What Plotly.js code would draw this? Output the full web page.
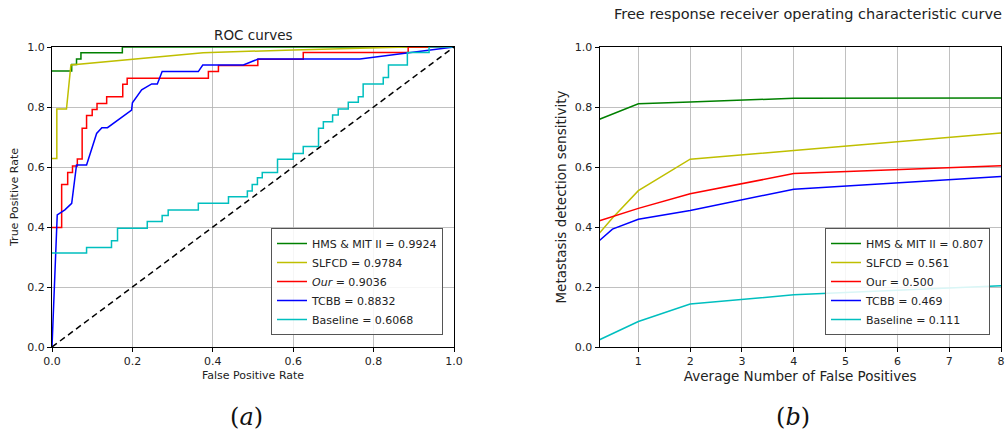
<!DOCTYPE html>
<html><head><meta charset="utf-8">
<script src="https://cdn.plot.ly/plotly-3.0.1.min.js"></script>
<style>html,body{margin:0;padding:0;background:#fff}#plot{width:1005px;height:435px}</style>
</head><body><div id="plot"></div>
<script>
// ---- ROC data (panel a) ----
const hmsFpr = [0, 0.049, 0.061, 0.072, 0.175, 1.0];
const hmsTpr = [0.92, 0.942, 0.96, 0.981, 1.0, 1.0];
const slfcdFpr = [0, 0.012, 0.012, 0.036, 0.047, 0.376, 0.6, 0.885, 1.0];
const slfcdTpr = [0.628, 0.628, 0.793, 0.793, 0.94, 0.981, 0.99, 1.0, 1.0];
const ourFpr = [0, 0.024, 0.039, 0.051, 0.063, 0.075, 0.086, 0.10, 0.112, 0.136, 0.176, 0.187, 0.389, 0.414, 0.512, 0.625, 0.886, 1.0];
const ourTpr = [0.398, 0.542, 0.582, 0.603, 0.627, 0.729, 0.772, 0.792, 0.812, 0.834, 0.876, 0.896, 0.918, 0.938, 0.959, 0.982, 1.0, 1.0];
const tcbbFpr = [0, 0.013, 0.032, 0.049, 0.061, 0.086, 0.111, 0.124, 0.138, 0.198, 0.2, 0.223, 0.248, 0.262, 0.274, 0.364, 0.375, 0.476, 0.513, 0.766, 1.0];
const tcbbTpr = [0, 0.44, 0.457, 0.479, 0.607, 0.607, 0.712, 0.731, 0.731, 0.79, 0.814, 0.857, 0.877, 0.877, 0.918, 0.918, 0.94, 0.94, 0.96, 0.96, 1.0];
const baseFpr = [0, 0.086, 0.148, 0.163, 0.237, 0.274, 0.289, 0.364, 0.439, 0.486, 0.498, 0.511, 0.523, 0.561, 0.60, 0.625, 0.663, 0.675, 0.698, 0.712, 0.737, 0.762, 0.774, 0.824, 0.837, 0.884, 0.938, 1.0];
const baseTpr = [0.313, 0.332, 0.354, 0.396, 0.418, 0.438, 0.457, 0.479, 0.501, 0.52, 0.542, 0.564, 0.582, 0.626, 0.645, 0.668, 0.729, 0.751, 0.773, 0.793, 0.816, 0.834, 0.877, 0.898, 0.94, 0.982, 1.0, 1.0];
const chanceX = [0, 1];
const chanceY = [0, 1];
const rocNames = ['HMS & MIT II = 0.9924', 'SLFCD = 0.9784', '<i>Our</i> = 0.9036', 'TCBB = 0.8832', 'Baseline = 0.6068'];

// ---- FROC data (panel b) ----
const avgFP = [0.25, 0.5, 1, 2, 4, 8];
const hmsSens = [0.759, 0.776, 0.811, 0.817, 0.829, 0.83];
const slfcdSens = [0.38, 0.43, 0.521, 0.626, 0.655, 0.713];
const ourSens = [0.421, 0.435, 0.462, 0.511, 0.578, 0.604];
const tcbbSens = [0.355, 0.393, 0.426, 0.455, 0.526, 0.568];
const baseSens = [0.024, 0.045, 0.085, 0.143, 0.174, 0.204];
const frocNames = ['HMS & MIT II = 0.807', 'SLFCD = 0.561', 'Our = 0.500', 'TCBB = 0.469', 'Baseline = 0.111'];
const frocXTicks = [1, 2, 3, 4, 5, 6, 7, 8];
const unitTicks = [0, 0.2, 0.4, 0.6, 0.8, 1.0];

const colors = ['#008000', '#bfbf00', '#ff0000', '#0000ff', '#00bfbf'];
const FONT = 'DejaVu Sans, sans-serif';
const LW = 1.5;

const traces = [];
const rocSets = [[hmsFpr, hmsTpr, 'hv'], [slfcdFpr, slfcdTpr, 'linear'], [ourFpr, ourTpr, 'hv'], [tcbbFpr, tcbbTpr, 'linear'], [baseFpr, baseTpr, 'hv']];
rocSets.forEach((s, i) => traces.push({
  x: s[0], y: s[1], type: 'scatter', mode: 'lines', name: rocNames[i],
  line: {color: colors[i], width: LW, shape: s[2]}, xaxis: 'x', yaxis: 'y', legend: 'legend'
}));
traces.push({x: chanceX, y: chanceY, type: 'scatter', mode: 'lines', showlegend: false,
  line: {color: '#000', width: LW, dash: '6px,4px'}, xaxis: 'x', yaxis: 'y'});

const frocSets = [hmsSens, slfcdSens, ourSens, tcbbSens, baseSens];
frocSets.forEach((s, i) => traces.push({
  x: avgFP, y: s, type: 'scatter', mode: 'lines', name: frocNames[i],
  line: {color: colors[i], width: LW}, xaxis: 'x2', yaxis: 'y2', legend: 'legend2'
}));

const axBase = {
  showline: true, linecolor: '#000', linewidth: 1, mirror: true,
  ticks: 'outside', ticklen: 4, tickcolor: '#000', tickwidth: 1,
  showgrid: true, gridcolor: '#b0b0b0', gridwidth: 0.8, zeroline: false,
  tickfont: {family: FONT, size: 11, color: '#222'}
};
const yDom = [(435 - 347) / 435, (435 - 47) / 435];
const legBase = {bgcolor: 'rgba(255,255,255,0.85)', bordercolor: '#555', borderwidth: 1,
  font: {family: FONT, size: 11, color: '#222'}, tracegroupgap: 0, itemwidth: 30,
  xanchor: 'right', yanchor: 'bottom', y: (435 - 335) / 435};

const layout = {
  width: 1005, height: 435, margin: {l: 0, r: 0, t: 0, b: 0},
  paper_bgcolor: '#fff', plot_bgcolor: '#fff',
  font: {family: FONT, color: '#222'},
  xaxis: Object.assign({}, axBase, {domain: [52 / 1005, 454 / 1005], range: [0, 1], tickvals: unitTicks, ticktext: unitTicks.map(v => v.toFixed(1)),
    title: {text: 'False Positive Rate', font: {family: FONT, size: 11, color: '#222'}, standoff: 4}, anchor: 'y'}),
  yaxis: Object.assign({}, axBase, {domain: yDom, range: [0, 1], tickvals: unitTicks, ticktext: unitTicks.map(v => v.toFixed(1)),
    title: {text: 'True Positive Rate', font: {family: FONT, size: 11, color: '#222'}, standoff: 6}, anchor: 'x'}),
  xaxis2: Object.assign({}, axBase, {domain: [599.5 / 1005, 1001 / 1005], range: [0.25, 8], tickvals: frocXTicks,
    title: {text: 'Average Number of False Positives', font: {family: FONT, size: 13.5, color: '#222'}, standoff: 2}, anchor: 'y2'}),
  yaxis2: Object.assign({}, axBase, {domain: yDom, range: [0, 1], tickvals: unitTicks, ticktext: unitTicks.map(v => v.toFixed(1)),
    title: {text: 'Metastasis detection sensitivity', font: {family: FONT, size: 13.5, color: '#222'}, standoff: 5}, anchor: 'x2'}),
  legend: Object.assign({}, legBase, {x: 443 / 1005}),
  legend2: Object.assign({}, legBase, {x: 990 / 1005}),
  annotations: [
    {text: 'ROC curves', x: 253 / 1005, y: 1 - 35 / 435, xref: 'paper', yref: 'paper', showarrow: false, xanchor: 'center', yanchor: 'middle',
      font: {family: FONT, size: 13.5, color: '#222'}},
    {text: 'Free response receiver operating characteristic curve', x: 808 / 1005, y: 1 - 14 / 435, xref: 'paper', yref: 'paper', showarrow: false,
      xanchor: 'center', yanchor: 'middle', font: {family: FONT, size: 14.5, color: '#222'}},
    {text: '(<i>a</i>)', x: 246 / 1005, y: 1 - 417 / 435, xref: 'paper', yref: 'paper', showarrow: false, xanchor: 'center', yanchor: 'middle',
      font: {family: 'DejaVu Serif, Liberation Serif, serif', size: 24, color: '#111'}},
    {text: '(<i>b</i>)', x: 793 / 1005, y: 1 - 417 / 435, xref: 'paper', yref: 'paper', showarrow: false, xanchor: 'center', yanchor: 'middle',
      font: {family: 'DejaVu Serif, Liberation Serif, serif', size: 24, color: '#111'}}
  ]
};

Plotly.newPlot('plot', traces, layout, {displayModeBar: false, staticPlot: true});
</script>
</body></html>
